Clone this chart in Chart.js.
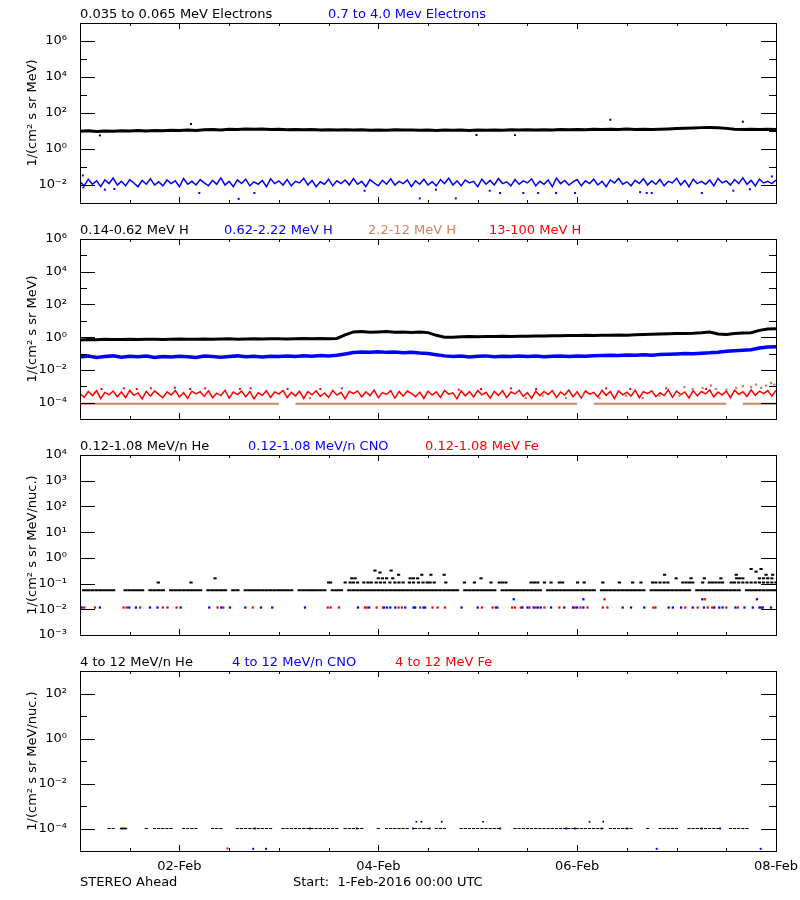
<!DOCTYPE html>
<html>
<head>
<meta charset="utf-8">
<script src="https://cdn.jsdelivr.net/npm/chart.js@4.4.1/dist/chart.umd.min.js"></script>
<style>
body { margin: 0; background: #fff; }
#page { position: relative; width: 800px; height: 900px; font-family: 'DejaVu Sans', sans-serif; font-size: 13px; color: #000; }
canvas { position: absolute; left: 0; }
.lbl { position: absolute; line-height: 15px; white-space: pre; }
</style>
</head>
<body>
<div id="page">
<canvas id="c1" width="800" height="216" style="top:0"></canvas>
<canvas id="c2" width="800" height="216" style="top:216px"></canvas>
<canvas id="c3" width="800" height="216" style="top:432px"></canvas>
<canvas id="c4" width="800" height="252" style="top:648px"></canvas>

<div class="lbl" style="left:80px;top:6px">0.035 to 0.065 MeV Electrons</div>
<div class="lbl" style="left:328px;top:6px;color:#0000ff">0.7 to 4.0 Mev Electrons</div>

<div class="lbl" style="left:80px;top:222px">0.14-0.62 MeV H</div>
<div class="lbl" style="left:224px;top:222px;color:#0000ff">0.62-2.22 MeV H</div>
<div class="lbl" style="left:368px;top:222px;color:#cd8462">2.2-12 MeV H</div>
<div class="lbl" style="left:489px;top:222px;color:#ff0000">13-100 MeV H</div>

<div class="lbl" style="left:80px;top:438px">0.12-1.08 MeV/n He</div>
<div class="lbl" style="left:248px;top:438px;color:#0000ff">0.12-1.08 MeV/n CNO</div>
<div class="lbl" style="left:425px;top:438px;color:#ff0000">0.12-1.08 MeV Fe</div>

<div class="lbl" style="left:80px;top:654px">4 to 12 MeV/n He</div>
<div class="lbl" style="left:232px;top:654px;color:#0000ff">4 to 12 MeV/n CNO</div>
<div class="lbl" style="left:395px;top:654px;color:#ff0000">4 to 12 MeV Fe</div>

<div class="lbl" style="left:80px;top:874px">STEREO Ahead</div>
<div class="lbl" style="left:293px;top:874px">Start:  1-Feb-2016 00:00 UTC</div>
</div>

<script>
// hours since 1-Feb-2016 00:00, plotted over 0..168
const dayTickHours = [24, 72, 120, 168];
const dayTickLabels = ['02-Feb', '04-Feb', '06-Feb', '08-Feb'];

// ---- panel 1: electrons
// 0.035-0.065 MeV, one value every 2 h
const elecLow = [
  9.6, 10.2, 9.4, 10.0, 9.8, 10.4,
  10.1, 10.6, 9.9, 10.8, 10.3, 11.0, 10.5, 11.2, 10.7, 11.6,
  12.0, 11.4, 12.6, 12.2, 13.0, 12.4, 12.8, 12.1, 12.5, 11.8,
  12.2, 11.6, 12.0, 11.4, 11.9, 11.3, 11.7, 11.2, 11.8, 11.1, 11.5, 11.0, 11.6, 11.2, 11.4,
  11.0, 11.5, 10.8, 11.3, 10.9, 11.4, 10.7, 11.2, 11.0, 11.5, 11.1, 11.6, 11.2, 11.7, 11.3,
  11.8, 11.4, 12.0, 11.6, 12.2, 11.8, 12.4, 12.0, 12.6, 12.2, 12.8, 12.3, 12.6, 12.1, 12.7,
  13.0, 13.6, 14.2, 14.8, 15.4, 15.8, 15.2, 14.0,
  12.4, 12.0, 12.5, 12.1, 12.4, 12.2
];
const elecLowOutHours = [4.8, 26.8, 95.7, 105, 128, 160];
const elecLowOutValues = [5.7, 24.5, 6.0, 5.9, 42, 33];

// 0.7-4.0 MeV, one value every hour
const elecHigh = [
  0.015, 0.009, 0.021, 0.011, 0.017, 0.008, 0.019, 0.012, 0.024, 0.010, 0.016, 0.009,
  0.020, 0.013, 0.008, 0.018, 0.011, 0.022, 0.010, 0.015, 0.009, 0.019, 0.012, 0.017,
  0.008, 0.023, 0.011, 0.016, 0.010, 0.020, 0.013, 0.009, 0.018, 0.011, 0.025, 0.010,
  0.016, 0.008, 0.019, 0.012, 0.021, 0.009, 0.015, 0.011, 0.018, 0.008, 0.022, 0.012,
  0.017, 0.010, 0.020, 0.009, 0.016, 0.013, 0.024, 0.010, 0.018, 0.008, 0.015, 0.011,
  0.021, 0.009, 0.017, 0.012, 0.019, 0.010, 0.023, 0.011, 0.016, 0.008, 0.020, 0.013,
  0.009, 0.018, 0.011, 0.022, 0.010, 0.016, 0.012, 0.019, 0.008, 0.017, 0.011, 0.021,
  0.010, 0.015, 0.009, 0.020, 0.012, 0.024, 0.010, 0.017, 0.009, 0.019, 0.013, 0.016,
  0.008, 0.021, 0.011, 0.018, 0.010, 0.023, 0.012, 0.015, 0.009, 0.020, 0.011, 0.017,
  0.013, 0.022, 0.009, 0.016, 0.011, 0.019, 0.008, 0.024, 0.012, 0.018, 0.010, 0.015,
  0.020, 0.009, 0.017, 0.012, 0.021, 0.010, 0.016, 0.008, 0.019, 0.013, 0.023, 0.011,
  0.015, 0.009, 0.018, 0.012, 0.022, 0.010, 0.017, 0.011, 0.020, 0.009, 0.016, 0.013,
  0.024, 0.010, 0.018, 0.008, 0.021, 0.012, 0.016, 0.011, 0.019, 0.009, 0.023, 0.013,
  0.017, 0.010, 0.020, 0.012, 0.025, 0.011, 0.018, 0.009, 0.021, 0.013, 0.016, 0.012,
  0.019
];
const elecHighOutHours = [0.7, 0.8, 6.0, 8.3, 28.8, 38.3, 42.1, 68.7, 82.0, 85.9, 90.7, 98.9, 101.4, 107, 110.6, 114.9, 119.5, 135.2, 136.8, 138, 150.1, 157.7, 161.7, 167];
const elecHighOutValues = [0.034, 0.0074, 0.0055, 0.006, 0.0036, 0.0017, 0.0036, 0.0048, 0.0018, 0.0055, 0.0018, 0.0048, 0.0036, 0.0036, 0.0036, 0.0036, 0.0036, 0.004, 0.0036, 0.0036, 0.0036, 0.0048, 0.0058, 0.03];

// ---- panel 2: protons
// 0.14-0.62 MeV and 0.62-2.22 MeV, one value every 2 h
const protLow = [
  0.68, 0.72, 0.70, 0.74, 0.71, 0.73, 0.75, 0.72, 0.74, 0.76,
  0.73, 0.75, 0.77, 0.74, 0.76, 0.78, 0.75, 0.77, 0.79, 0.76,
  0.78, 0.80, 0.77, 0.79, 0.81, 0.78, 0.80, 0.82, 0.80, 0.83,
  0.81, 0.84,
  1.4, 2.1, 2.2, 2.0, 2.1, 2.2, 2.0, 2.1, 1.95, 2.05, 1.9, 1.3, 1.0,
  1.0, 1.05, 1.1, 1.08, 1.12, 1.1, 1.15, 1.12, 1.16, 1.14, 1.18,
  1.2, 1.24, 1.22, 1.28, 1.25, 1.3, 1.27, 1.32, 1.3, 1.35, 1.33, 1.4, 1.45, 1.5,
  1.55, 1.6, 1.65, 1.7, 1.75, 1.85, 2.05, 1.55, 1.45,
  1.7, 1.8, 1.85, 2.6, 3.2, 3.3
];
const protMid = [
  0.062, 0.070, 0.058, 0.066, 0.072, 0.060, 0.068, 0.063, 0.071, 0.057,
  0.066, 0.061, 0.069, 0.064, 0.058, 0.070, 0.065, 0.060, 0.067, 0.072,
  0.063, 0.068, 0.061, 0.069, 0.065, 0.071, 0.066, 0.073, 0.068, 0.075,
  0.072, 0.078,
  0.095, 0.115, 0.125, 0.12, 0.13, 0.118, 0.124, 0.112, 0.12, 0.108, 0.1, 0.085, 0.072,
  0.066, 0.070, 0.062, 0.068, 0.072, 0.064, 0.069, 0.065, 0.071, 0.066, 0.070, 0.064, 0.069, 0.072, 0.067, 0.071, 0.068, 0.073,
  0.075, 0.079, 0.076, 0.081, 0.078, 0.083, 0.080, 0.086,
  0.090, 0.095, 0.100, 0.098, 0.105, 0.110,
  0.120, 0.140, 0.150, 0.160, 0.170,
  0.220, 0.250, 0.260
];
// 13-100 MeV, one value every hour
const protHigh = [
  3.6e-4, 2.1e-4, 4.8e-4, 2.7e-4, 5.4e-4, 1.8e-4, 4.2e-4, 3.0e-4, 5.1e-4, 2.3e-4, 4.5e-4, 2.0e-4,
  5.6e-4, 2.8e-4, 3.9e-4, 1.7e-4, 4.9e-4, 2.5e-4, 5.2e-4, 3.2e-4, 2.0e-4, 4.6e-4, 2.9e-4, 5.5e-4,
  2.2e-4, 4.1e-4, 1.8e-4, 5.0e-4, 3.4e-4, 4.7e-4, 2.4e-4, 5.3e-4, 2.0e-4, 3.8e-4, 2.7e-4, 5.7e-4,
  1.9e-4, 4.4e-4, 3.1e-4, 5.1e-4, 2.3e-4, 4.8e-4, 1.7e-4, 4.0e-4, 2.8e-4, 5.4e-4, 2.1e-4, 4.5e-4,
  3.3e-4, 5.6e-4, 2.0e-4, 4.2e-4, 2.6e-4, 5.0e-4, 1.8e-4, 4.7e-4, 3.0e-4, 5.3e-4, 2.4e-4, 3.9e-4,
  2.1e-4, 5.5e-4, 2.9e-4, 4.3e-4, 1.7e-4, 4.9e-4, 3.5e-4, 5.2e-4, 2.2e-4, 4.6e-4, 2.7e-4, 5.8e-4,
  2.0e-4, 4.1e-4, 3.2e-4, 5.4e-4, 1.9e-4, 4.8e-4, 2.5e-4, 5.1e-4, 3.7e-4, 2.3e-4, 4.4e-4, 1.8e-4,
  5.0e-4, 2.9e-4, 4.6e-4, 2.1e-4, 5.6e-4, 3.3e-4, 4.0e-4, 1.7e-4, 5.2e-4, 2.6e-4, 4.7e-4, 2.2e-4,
  5.5e-4, 3.0e-4, 4.3e-4, 1.9e-4, 4.9e-4, 2.8e-4, 5.3e-4, 2.0e-4, 4.5e-4, 3.4e-4, 5.7e-4, 2.4e-4,
  4.1e-4, 1.8e-4, 5.0e-4, 2.7e-4, 4.8e-4, 3.1e-4, 5.4e-4, 2.1e-4, 4.4e-4, 2.9e-4, 5.9e-4, 2.3e-4,
  4.6e-4, 1.9e-4, 5.2e-4, 3.3e-4, 4.2e-4, 2.2e-4, 5.6e-4, 2.8e-4, 4.9e-4, 1.8e-4, 5.1e-4, 3.0e-4,
  4.3e-4, 2.5e-4, 5.8e-4, 2.0e-4, 4.7e-4, 3.5e-4, 5.3e-4, 2.3e-4, 4.0e-4, 2.7e-4, 6.0e-4, 2.1e-4,
  5.0e-4, 3.1e-4, 4.5e-4, 1.9e-4, 5.5e-4, 2.6e-4, 4.8e-4, 3.4e-4, 5.9e-4, 2.2e-4, 4.4e-4, 2.9e-4,
  5.2e-4, 2.0e-4, 5.7e-4, 3.2e-4, 4.6e-4, 2.4e-4, 6.1e-4, 2.8e-4, 5.0e-4, 3.6e-4, 5.4e-4, 2.5e-4,
  5.8e-4
];
const protHighOutHours = [5.2, 10.6, 13.7, 17.1, 22.9, 26.6, 30.2, 38.6, 41.2, 50.1, 58, 63.2, 91.4, 96.8, 104, 110.1, 127, 132.8, 141.5, 151.1];
const protHighOutValues = [6.8e-4, 7.5e-4, 6.8e-4, 7.5e-4, 8.2e-4, 6.8e-4, 7.5e-4, 6.8e-4, 7.5e-4, 6.8e-4, 6.8e-4, 7.5e-4, 6.2e-4, 6.8e-4, 7.5e-4, 6.8e-4, 7.5e-4, 6.8e-4, 7.5e-4, 6.8e-4];
// 2.2-12 MeV, one value every 2 h (one-count floor)
const protTan = [
  8.5e-5, 8.5e-5, 8.5e-5, 8.5e-5, 8.5e-5, 8.5e-5, 8.5e-5, 8.5e-5, 8.5e-5, 8.5e-5,
  8.5e-5, 8.5e-5, 8.5e-5, 8.5e-5, 8.5e-5, 8.5e-5, 8.5e-5, 8.5e-5, 8.5e-5, 8.5e-5,
  8.5e-5, 8.5e-5, 8.5e-5, 8.5e-5, 8.5e-5, null, 8.5e-5, 8.5e-5, 8.5e-5, 8.5e-5,
  8.5e-5, 8.5e-5, 8.5e-5, 8.5e-5, 8.5e-5, 8.5e-5, 8.5e-5, 8.5e-5, 8.5e-5, 8.5e-5,
  8.5e-5, 8.5e-5, 8.5e-5, 8.5e-5, 8.5e-5, 8.5e-5, 8.5e-5, 8.5e-5, 8.5e-5, 8.5e-5,
  8.5e-5, 8.5e-5, 8.5e-5, 8.5e-5, 8.5e-5, 8.5e-5, 8.5e-5, 8.5e-5, 8.5e-5, 8.5e-5,
  8.5e-5, null, 8.5e-5, 8.5e-5, 8.5e-5, 8.5e-5, 8.5e-5, 8.5e-5, 8.5e-5, 8.5e-5,
  8.5e-5, 8.5e-5, 8.5e-5, 8.5e-5, 8.5e-5, 8.5e-5, 8.5e-5, 8.5e-5, 8.5e-5, null,
  8.5e-5, 8.5e-5, 8.5e-5, 8.5e-5, 8.5e-5
];
const protTanUpHours = [55.5, 107.6, 111.7, 117.3, 121.3, 125.4, 131.8, 135.8, 139.9, 144.7,
  145.9, 147.9, 150.3, 152.3, 153.5, 156, 158.4, 160, 162, 163.2, 164.4, 165.6, 166.8, 167.6];
const protTanUpValues = [1.9e-4, 1.9e-4, 2.7e-4, 1.9e-4, 2.7e-4, 1.9e-4, 2.7e-4, 1.9e-4, 2.7e-4, 2.7e-4,
  9e-4, 6.8e-4, 7.9e-4, 1.1e-3, 6.8e-4, 6.2e-4, 7.9e-4, 1e-3, 9e-4, 1.26e-3, 7.9e-4, 1.1e-3, 1.6e-3, 1.26e-3];

// ---- panel 3: 0.12-1.08 MeV/n ions
// b = the one-count He floor (~0.055), one slot per hour
const b = 0.055;
const heFloor = [
  null, b, b, b, b, b, b, b, b, null, null, b,
  b, b, b, b, null, b, b, b, b, null, b, b,
  b, b, b, b, b, b, null, b, b, b, b, b,
  null, b, b, null, b, b, b, b, b, b, b, b,
  b, b, b, b, null, b, b, b, b, b, b, b,
  null, b, b, b, null, b, b, b, b, b, b, b,
  b, b, b, b, b, b, b, b, b, b, b, b,
  b, b, b, b, b, b, b, b, null, b, b, b,
  b, b, b, b, b, null, b, b, b, b, b, b,
  b, b, b, b, null, b, b, b, b, b, b, b,
  b, b, b, b, b, null, b, b, b, b, b, b,
  b, b, b, b, b, null, b, b, b, b, b, b,
  b, b, b, b, null, b, b, b, b, b, b, b,
  b, b, b, b, null, b, b, b, b, b, b, b,
  b
];
const heUpHours = [
  18.9, 26.8, 60, 60.5, 64, 65.2, 66, 67, 68.5, 69.5, 70.3, 71.5, 72.5, 73.5, 74.8, 76, 77, 78, 79.5, 80.5,
  81.7, 82.8, 83.8, 84.5, 85.5, 88.3, 92.8, 95.2, 99.2, 101.2, 102, 102.8, 108.9, 109.7, 110.5, 112.1, 113.7,
  115.7, 116.5, 120.1, 121.7, 126.2, 130.2, 133.4, 135.4, 138.2, 139, 140, 141, 141.9, 145.5, 146.3, 147.1,
  147.9, 150.3, 151.9, 152.7, 153.5, 154.3, 155.1, 157.2, 158, 159, 160, 161, 162, 163, 164, 165, 166, 167, 168,
  32.6, 65.6, 66.4, 72, 73, 74, 75.5, 79.7, 80.5, 81.5, 96.8, 143.9, 147.5, 150.7, 154.7, 158.5, 159.2, 160, 164, 165, 166, 167,
  76.9, 82.5, 84.7, 87.9, 141.1, 158.4, 165.6, 167.2,
  71.2, 72.4, 75.1, 162, 163.2, 164.4
];
const heUpValues = [
  0.11, 0.11, 0.11, 0.11, 0.11, 0.11, 0.11, 0.11, 0.11, 0.11, 0.11, 0.11, 0.11, 0.11, 0.11, 0.11, 0.11, 0.11, 0.11, 0.11,
  0.11, 0.11, 0.11, 0.11, 0.11, 0.11, 0.11, 0.11, 0.11, 0.11, 0.11, 0.11, 0.11, 0.11, 0.11, 0.11, 0.11,
  0.11, 0.11, 0.11, 0.11, 0.11, 0.11, 0.11, 0.11, 0.11, 0.11, 0.11, 0.11, 0.11, 0.11, 0.11, 0.11,
  0.11, 0.11, 0.11, 0.11, 0.11, 0.11, 0.11, 0.11, 0.11, 0.11, 0.11, 0.11, 0.11, 0.11, 0.11, 0.11, 0.11, 0.11, 0.11,
  0.16, 0.16, 0.16, 0.16, 0.16, 0.16, 0.16, 0.16, 0.16, 0.16, 0.16, 0.16, 0.16, 0.16, 0.16, 0.16, 0.16, 0.16, 0.16, 0.16, 0.16, 0.16,
  0.22, 0.22, 0.22, 0.22, 0.22, 0.22, 0.22, 0.22,
  0.32, 0.27, 0.32, 0.37, 0.29, 0.37
];
const cnoLowHours = [0.4, 4.8, 11.9, 13.5, 16.9, 18.7, 24.3, 31.2, 34.1, 36.2, 39.9, 43.7, 46.4, 54.3, 67.1, 69.8,
  73.4, 74.1, 74.9, 76.1, 78.5, 80.5, 80.9, 82.9, 83.3, 92.1, 96, 100.4, 106.8, 108, 109.5, 110.5, 111.2, 113.7,
  116.9, 119, 120, 121.5, 131, 133, 136.2, 142.1, 143.1, 145.1, 147.9, 150.6, 153.1, 154.3, 155.1, 158.2, 160.4,
  162.4, 164, 164.8, 166.8, 104.7, 121.5, 150.2, 163.4];
const cnoLowValues = [0.0117, 0.0117, 0.0117, 0.0117, 0.0117, 0.0117, 0.0117, 0.0117, 0.0117, 0.0117, 0.0117, 0.0117,
  0.0117, 0.0117, 0.0117, 0.0117, 0.0117, 0.0117, 0.0117, 0.0117, 0.0117, 0.0117, 0.0117, 0.0117, 0.0117, 0.0117,
  0.0117, 0.0117, 0.0117, 0.0117, 0.0117, 0.0117, 0.0117, 0.0117, 0.0117, 0.0117, 0.0117, 0.0117, 0.0117, 0.0117,
  0.0117, 0.0117, 0.0117, 0.0117, 0.0117, 0.0117, 0.0117, 0.0117, 0.0117, 0.0117, 0.0117, 0.0117, 0.0117, 0.0117,
  0.0117, 0.0245, 0.0245, 0.0245, 0.0245];
const feLowHours = [1.0, 3.6, 10.5, 11.3, 14.5, 20.0, 21.1, 23.3, 33.2, 34.6, 41.7, 59.8, 60.5, 62.5, 68.8, 69.2,
  71.6, 73.1, 76.9, 77.7, 82.1, 85.1, 86.3, 88.1, 97, 99.6, 100.8, 104.3, 105, 106.4, 108.5, 110.0, 112.1, 115.7,
  119.5, 120.8, 122.5, 126.2, 127.3, 138.4, 138.9, 146.1, 149.1, 151.5, 152.6, 156, 158.8, 164.4, 126.6, 150.8];
const feLowValues = [0.0117, 0.0117, 0.0117, 0.0117, 0.0117, 0.0117, 0.0117, 0.0117, 0.0117, 0.0117, 0.0117, 0.0117,
  0.0117, 0.0117, 0.0117, 0.0117, 0.0117, 0.0117, 0.0117, 0.0117, 0.0117, 0.0117, 0.0117, 0.0117, 0.0117, 0.0117,
  0.0117, 0.0117, 0.0117, 0.0117, 0.0117, 0.0117, 0.0117, 0.0117, 0.0117, 0.0117, 0.0117, 0.0117, 0.0117, 0.0117,
  0.0117, 0.0117, 0.0117, 0.0117, 0.0117, 0.0117, 0.0117, 0.0117, 0.0245, 0.0245];

// ---- panel 4: 4-12 MeV/n ions
// q = the one-count He floor (~1e-4), one slot per hour
const q = 1e-4;
const heHiFloor = [
  null, null, null, null, null, null, null, q, q, null, q, q,
  null, null, null, null, q, null, q, q, q, q, q, null,
  null, q, q, q, q, null, null, null, q, q, q, null,
  null, null, q, q, q, q, q, q, q, q, q, null,
  null, q, q, q, q, q, q, q, q, q, q, q,
  q, q, q, null, q, q, q, q, q, null, null, null,
  q, null, q, q, q, q, q, q, null, q, q, q,
  q, null, q, q, q, null, null, null, q, q, q, q,
  q, q, q, q, q, q, null, null, null, q, q, q,
  q, q, q, q, q, q, q, q, q, q, q, q,
  q, q, q, q, q, q, q, null, q, q, q, q,
  q, q, null, null, null, q, null, null, q, q, q, q,
  q, null, null, q, q, q, q, q, q, q, q, null,
  null, q, q, q, q, q, null, null, null, null, null, null,
  null
];
const heHiUpHours = [81.2, 82.4, 87.3, 97.3, 123, 126.3];
const heHiUpValues = [2e-4, 2e-4, 2e-4, 2e-4, 2e-4, 2e-4];
const cnoHiHours = [10, 10.5, 11, 42.2, 55.5, 66.8, 80.4, 84.4, 101.4, 117.4, 119.5, 125.9, 132, 150, 154.5, 41.8, 44.9, 139.2, 164.3];
const cnoHiValues = [1e-4, 1e-4, 1e-4, 1e-4, 1e-4, 1e-4, 1e-4, 1e-4, 1e-4, 1e-4, 1e-4, 1e-4, 1e-4, 1e-4, 1e-4, 1.25e-5, 1.25e-5, 1.25e-5, 1.25e-5];
const feHiHours = [35.6];
const feHiValues = [1.3e-5];

// axis decades
const p1Major = [1e-2, 1, 1e2, 1e4, 1e6], p1Minor = [1e-1, 1e1, 1e3, 1e5];
const p2Major = [1e-4, 1e-2, 1, 1e2, 1e4, 1e6], p2Minor = [1e-3, 1e-1, 1e1, 1e3, 1e5];
const p3Major = [1e-3, 1e-2, 1e-1, 1, 1e1, 1e2, 1e3, 1e4], p3Minor = [];
const p4Major = [1e-4, 1e-2, 1, 1e2], p4Minor = [1e-3, 1e-1, 1e1];

const BLUE = '#0000ff', RED = '#ff0000', TAN = '#cd8462', BLACK = '#000000';

Chart.defaults.font.family = "'DejaVu Sans', sans-serif";
Chart.defaults.font.size = 13;
Chart.defaults.color = '#000';

const SUP = {'-': '\u207B', '0': '\u2070', '1': '\u00B9', '2': '\u00B2', '3': '\u00B3', '4': '\u2074', '5': '\u2075', '6': '\u2076', '7': '\u2077'};
function powLabel(v) {
    const e = Math.round(Math.log10(v));
    return '10' + String(e).split('').map(c => SUP[c]).join('');
}

function every(values, step) { return values.map((v, i) => ({x: i * step, y: v})); }
function pairs(hours, values) { return hours.map((h, i) => ({x: h, y: values[i]})); }

function band(data, color, width) {
    return {data: data, showLine: true, borderColor: color, borderWidth: width, pointRadius: 0, fill: false};
}
function dots(data, color, r) {
    return {data: data, showLine: false, pointStyle: 'rect', pointRadius: r, backgroundColor: color, borderColor: color, borderWidth: 0};
}
function dashes(data, color, r, w) {
    return {data: data, showLine: false, pointStyle: 'line', pointRadius: r, borderColor: color, borderWidth: w};
}

// IDL-like frame: box plus inward ticks on all four sides
const idlFrame = {
    id: 'idlFrame',
    afterDatasetsDraw(chart, args, opts) {
        const {ctx, chartArea: a, scales: {x, y}} = chart;
        ctx.save();
        ctx.strokeStyle = '#000';
        ctx.lineWidth = 1;
        ctx.beginPath();
        const yTick = (v, len) => {
            const py = Math.round(y.getPixelForValue(v)) + 0.5;
            ctx.moveTo(a.left, py); ctx.lineTo(a.left + len, py);
            ctx.moveTo(a.right, py); ctx.lineTo(a.right - len, py);
        };
        opts.yMajor.forEach(v => yTick(v, 15));
        opts.yMinor.forEach(v => yTick(v, 7));
        for (let h = 12; h < 168; h += 12) {
            const len = dayTickHours.includes(h) ? 6 : 3;
            const px = Math.round(x.getPixelForValue(h)) + 0.5;
            ctx.moveTo(px, a.top); ctx.lineTo(px, a.top + len);
            ctx.moveTo(px, a.bottom); ctx.lineTo(px, a.bottom - len);
        }
        ctx.stroke();
        ctx.strokeRect(Math.round(a.left) + 0.5, Math.round(a.top) + 0.5, Math.round(a.right - a.left), Math.round(a.bottom - a.top));
        ctx.restore();
    }
};

function panel(id, cfg) {
    return new Chart(document.getElementById(id), {
        type: 'scatter',
        data: {datasets: cfg.datasets},
        options: {
            responsive: false,
            animation: false,
            events: [],
            layout: {padding: {left: 0, right: 24, top: 23, bottom: cfg.padBottom}},
            plugins: {
                legend: {display: false},
                tooltip: {enabled: false},
                idlFrame: {yMajor: cfg.yMajor, yMinor: cfg.yMinor}
            },
            scales: {
                x: {
                    type: 'linear', min: 0, max: 168,
                    grid: {display: false}, border: {display: false},
                    ticks: {display: cfg.showDates, padding: 0, autoSkip: false, maxRotation: 0,
                        callback: v => dayTickLabels[dayTickHours.indexOf(v)]},
                    afterBuildTicks: s => { s.ticks = dayTickHours.map(h => ({value: h})); },
                    afterFit: s => { s.height = cfg.showDates ? 30 : 0; s.paddingLeft = 0; s.paddingRight = 0; }
                },
                y: {
                    type: 'logarithmic', min: cfg.yMin, max: cfg.yMax,
                    grid: {display: false}, border: {display: false},
                    ticks: {padding: 5, autoSkip: false, callback: v => powLabel(v)},
                    afterBuildTicks: s => { s.ticks = cfg.yMajor.map(v => ({value: v})); },
                    afterFit: s => { s.width = 80; s.paddingTop = 0; s.paddingBottom = 0; },
                    title: {display: true, text: cfg.yTitle, padding: {top: 25, bottom: 0}}
                }
            }
        },
        plugins: [idlFrame]
    });
}

panel('c1', {
    yMin: 1e-3, yMax: 1e7, yMajor: p1Major, yMinor: p1Minor, padBottom: 13, showDates: false,
    yTitle: '1/(cm\u00B2 s sr MeV)',
    datasets: [
        dots(pairs(elecLowOutHours, elecLowOutValues), BLACK, 1.4),
        band(every(elecLow, 2), BLACK, 3),
        dots(pairs(elecHighOutHours, elecHighOutValues), BLUE, 1.4),
        band(every(elecHigh, 1), BLUE, 1.5)
    ]
});

panel('c2', {
    yMin: 1e-5, yMax: 1e6, yMajor: p2Major, yMinor: p2Minor, padBottom: 13, showDates: false,
    yTitle: '1/(cm\u00B2 s sr MeV)',
    datasets: [
        band(every(protLow, 2), BLACK, 3),
        band(every(protMid, 2), BLUE, 3.5),
        dots(pairs(protTanUpHours, protTanUpValues), TAN, 1.6),
        dots(pairs(protHighOutHours, protHighOutValues), RED, 1.4),
        band(every(protHigh, 1), RED, 1.5),
        band(every(protTan, 2), TAN, 2)
    ]
});

panel('c3', {
    yMin: 1e-3, yMax: 1e4, yMajor: p3Major, yMinor: p3Minor, padBottom: 13, showDates: false,
    yTitle: '1/(cm\u00B2 s sr MeV/nuc.)',
    datasets: [
        dashes(every(heFloor, 1), BLACK, 2.1, 2),
        dashes(pairs(heUpHours, heUpValues), BLACK, 1.6, 2),
        dots(pairs(cnoLowHours, cnoLowValues), BLUE, 1.6),
        dots(pairs(feLowHours, feLowValues), RED, 1.6)
    ]
});

panel('c4', {
    yMin: 1e-5, yMax: 1e3, yMajor: p4Major, yMinor: p4Minor, padBottom: 19, showDates: true,
    yTitle: '1/(cm\u00B2 s sr MeV/nuc.)',
    datasets: [
        dashes(every(heHiFloor, 1), BLACK, 1.6, 1),
        dots(pairs(heHiUpHours, heHiUpValues), BLACK, 1.2),
        dots(pairs(cnoHiHours, cnoHiValues), BLUE, 1.4),
        dots(pairs(feHiHours, feHiValues), RED, 1.4)
    ]
});
</script>
</body>
</html>
